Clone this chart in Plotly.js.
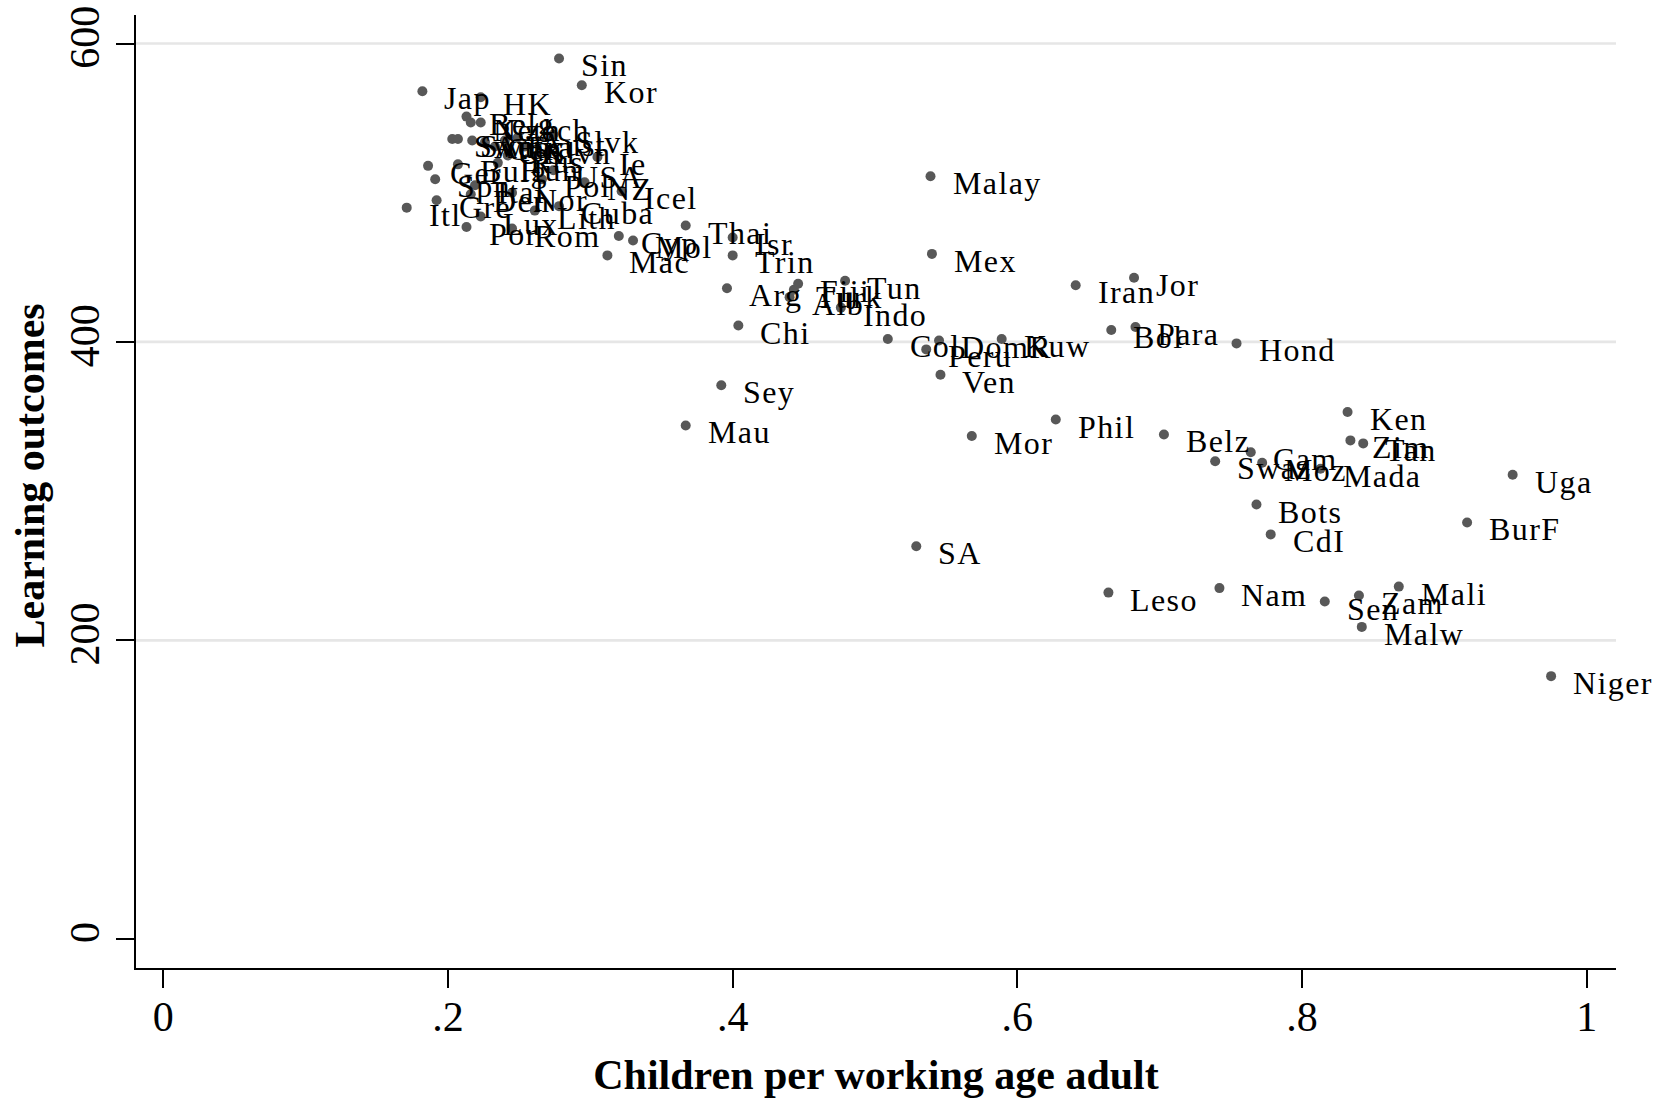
<!DOCTYPE html>
<html>
<head>
<meta charset="utf-8">
<script src="https://cdn.plot.ly/plotly-3.0.1.min.js"></script>
<style>
  html, body { margin: 0; padding: 0; background: #ffffff; }
  #chart { width: 1662px; height: 1098px; }
  .annotation-text { letter-spacing: 1.4px; }
  g.annotation[data-index="85"] .annotation-text { letter-spacing: 0px; }
</style>
</head>
<body>
<div id="chart"></div>
<script>
// Country labels
const countries = [
  "Sin","Kor","Jap","HK","Belg","Neth","Czech","Swe","Swit","Aus",
  "Can","UK","Fra","Aust","Slvn","Slvk","Rus","Ie","Ger","Bulg",
  "Hun","Ital","Spn","Nor","Pol","NZ","Icel","USA","Gre","Den",
  "Itl","Lux","Lith","Cuba","Por","Rom","Cyp","Mol","Mac","Thai",
  "Isr","Trin","Arg","Alb","Turk","Fiji","Tun","Indo","Chi","Sey",
  "Mau","Malay","Mex","Col","Peru","DomR","Kuw","Ven","Iran","Jor",
  "Bol","Para","Hond","Phil","Mor","Belz","Swaz","Cam","Moz","Mada",
  "Ken","Zim","Tan","Bots","CdI","BurF","Uga","Niger","SA","Leso",
  "Nam","Sen","Zam","Mali","Malw"
];
// Children per working age adult
const childrenPerAdult = [
  0.278,0.294,0.182,0.223,0.213,0.216,0.223,0.203,0.207,0.217,
  0.226,0.233,0.240,0.249,0.254,0.274,0.242,0.305,0.186,0.207,
  0.235,0.219,0.191,0.245,0.266,0.296,0.322,0.274,0.192,0.216,
  0.171,0.223,0.261,0.278,0.213,0.245,0.320,0.330,0.312,0.367,
  0.400,0.400,0.396,0.440,0.443,0.446,0.479,0.476,0.404,0.392,
  0.367,0.539,0.540,0.509,0.536,0.545,0.589,0.546,0.641,0.682,
  0.666,0.683,0.754,0.627,0.568,0.703,0.739,0.764,0.772,0.813,
  0.832,0.834,0.843,0.768,0.778,0.916,0.948,0.975,0.529,0.664,
  0.742,0.816,0.840,0.868,0.842
];
// Learning outcomes
const learningOutcomes = [
  590,572,568,564,551,547,547,536,536,535,
  534,531,535,537,531,539,525,524,518,519,
  520,505,509,500,509,507,501,515,495,499,
  490,484,488,491,477,476,471,468,458,478,
  470,458,436,430,435,439,441,423,411,371,
  344,511,459,402,395,401,402,378,438,443,
  408,410,399,348,337,338,320,326,319,315,
  353,334,332,291,271,279,311,176,263,232,
  235,226,230,236,209
];
const yGridVals = [200, 400, 600];
const xTickVals = [0, 0.2, 0.4, 0.6, 0.8, 1];
const xTickText = ["0", ".2", ".4", ".6", ".8", "1"];
const yTickVals = [0, 200, 400, 600];
const yTickText = ["0", "200", "400", "600"];
const xTitle = "Children per working age adult";
const yTitle = "Learning outcomes";

const serif = "Liberation Serif, Times New Roman, serif";

const trace = {
  type: "scatter",
  mode: "markers",
  x: childrenPerAdult,
  y: learningOutcomes,
  text: countries,
  hoverinfo: "text+x+y",
  marker: { color: "#585858", size: 10, line: { width: 0 } },
  showlegend: false
};

const annotations = countries.map((c, i) => ({
  x: childrenPerAdult[i],
  y: learningOutcomes[i],
  xref: "x", yref: "y",
  text: c,
  showarrow: false,
  xanchor: "left",
  yanchor: "middle",
  xshift: 20,
  yshift: -7,
  font: { family: serif, size: 32, color: "#000000" }
}));

// y-axis title (placed as a rotated annotation to match the reference position)
annotations.push({
  xref: "paper", yref: "paper",
  x: -0.0716, y: 0.517,
  text: "<b>" + yTitle + "</b>",
  textangle: -90,
  showarrow: false,
  xanchor: "center", yanchor: "middle",
  font: { family: serif, size: 42, color: "#000000" }
});

const shapes = yGridVals.map(v => ({
  type: "line", xref: "paper", x0: 0, x1: 1, yref: "y", y0: v, y1: v,
  layer: "below", line: { color: "#e6e6e6", width: 2.6 }
}));

const layout = {
  width: 1662,
  height: 1098,
  paper_bgcolor: "#ffffff",
  plot_bgcolor: "#ffffff",
  margin: { l: 136, r: 46, t: 15, b: 130, pad: 0 },
  font: { family: serif, color: "#000000" },
  xaxis: {
    range: [-0.0192, 1.0206],
    tickvals: xTickVals,
    ticktext: xTickText,
    ticks: "outside",
    ticklen: 18,
    tickwidth: 2,
    tickcolor: "#000000",
    ticklabelstandoff: -7,
    showline: true,
    linecolor: "#000000",
    linewidth: 2,
    showgrid: false,
    zeroline: false,
    tickfont: { family: serif, size: 42, color: "#000000" },
    title: {
      text: "<b>" + xTitle + "</b>",
      font: { family: serif, size: 42, color: "#000000" },
      standoff: 20
    },
    automargin: false
  },
  yaxis: {
    range: [-19.6, 619.1],
    tickvals: yTickVals,
    ticktext: yTickText,
    tickangle: -90,
    ticks: "outside",
    ticklen: 18,
    tickwidth: 2,
    tickcolor: "#000000",
    showline: true,
    linecolor: "#000000",
    linewidth: 2,
    showgrid: false,
    zeroline: false,
    tickfont: { family: serif, size: 42, color: "#000000" },
    automargin: false
  },
  shapes: shapes,
  annotations: annotations
};

Plotly.newPlot("chart", [trace], layout, { displayModeBar: false, staticPlot: true });
</script>
</body>
</html>
